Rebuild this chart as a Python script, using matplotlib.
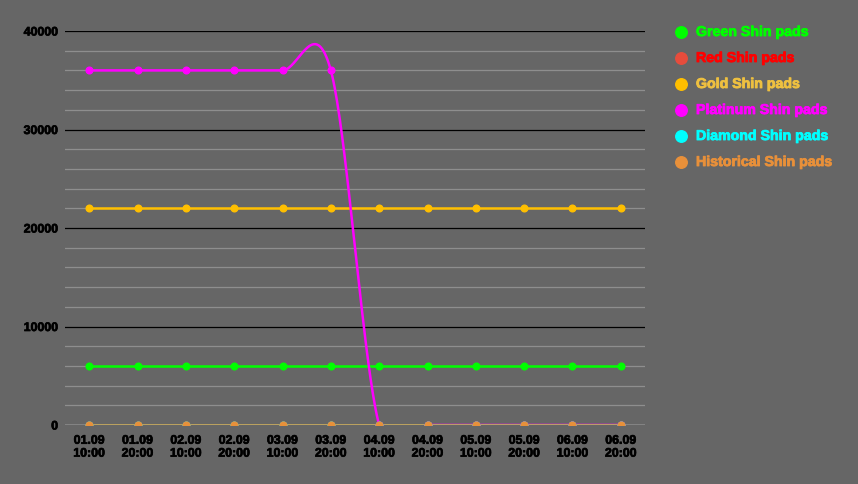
import numpy as np
import matplotlib
matplotlib.use("Agg")
import matplotlib.pyplot as plt
from matplotlib.lines import Line2D
import matplotlib.patheffects as pe

plt.rcParams['font.family'] = ['Liberation Sans', 'DejaVu Sans']

categories = ["01.09\n10:00", "01.09\n20:00", "02.09\n10:00", "02.09\n20:00",
              "03.09\n10:00", "03.09\n20:00", "04.09\n10:00", "04.09\n20:00",
              "05.09\n10:00", "05.09\n20:00", "06.09\n10:00", "06.09\n20:00"]

series_names = ["Green Shin pads", "Red Shin pads", "Gold Shin pads",
                "Platinum Shin pads", "Diamond Shin pads", "Historical Shin pads"]
green = [6000] * 12
red = [0] * 12
gold = [22000] * 12
platinum = [36000, 36000, 36000, 36000, 36000, 36000, 0, 0, 0, 0, 0, 0]
diamond = [0] * 12
historical = [0] * 12
series_values = [green, red, gold, platinum, diamond, historical]

line_colors = ["#00ff00", "#e74c3c", "#ffbf00", "#ff00ff", "#00ffff", "#e8903a"]
text_colors = ["#00ff00", "#ff0000", "#eec040", "#ff00ff", "#00ffff", "#e8903a"]

BG = "#666666"


def catmull_rom(x, y, n=40):
    x = np.asarray(x, float)
    y = np.asarray(y, float)
    xs, ys = [], []
    N = len(x)
    for i in range(N - 1):
        p0 = (x[max(i - 1, 0)], y[max(i - 1, 0)])
        p1 = (x[i], y[i])
        p2 = (x[i + 1], y[i + 1])
        p3 = (x[min(i + 2, N - 1)], y[min(i + 2, N - 1)])
        c1 = (p1[0] + (p2[0] - p0[0]) / 6, p1[1] + (p2[1] - p0[1]) / 6)
        c2 = (p2[0] - (p3[0] - p1[0]) / 6, p2[1] - (p3[1] - p1[1]) / 6)
        t = np.linspace(0, 1, n)
        bx = (1 - t) ** 3 * p1[0] + 3 * (1 - t) ** 2 * t * c1[0] + 3 * (1 - t) * t ** 2 * c2[0] + t ** 3 * p2[0]
        by = (1 - t) ** 3 * p1[1] + 3 * (1 - t) ** 2 * t * c1[1] + 3 * (1 - t) * t ** 2 * c2[1] + t ** 3 * p2[1]
        xs.append(bx)
        ys.append(by)
    return np.concatenate(xs), np.concatenate(ys)


fig = plt.figure(figsize=(8.58, 4.84), dpi=100, facecolor=BG)
ax = fig.add_axes([65 / 858, 1 - 425 / 484, (645 - 65) / 858, (425 - 31) / 484])
ax.set_facecolor(BG)

x = np.arange(len(categories))
ax.set_xlim(-0.5, len(categories) - 0.5)
ax.set_ylim(0, 40000)

# grid
for v in range(2000, 40001, 2000):
    if v % 10000 == 0:
        ax.axhline(v, color="#000000", lw=0.9, zorder=1)
    else:
        ax.axhline(v, color="#8e8e8e", lw=0.9, zorder=1)
ax.axhline(0, color="#ffffff", lw=1.0, zorder=1)

for vals, col in zip(series_values, line_colors):
    sx, sy = catmull_rom(x, vals)
    ax.plot(sx, sy, color=col, lw=1.8, zorder=3, solid_capstyle="round")
    ax.plot(x, vals, linestyle="none", marker="o", ms=4.8, color=col, zorder=4)

for s in ax.spines.values():
    s.set_visible(False)

tick_fx = [pe.withStroke(linewidth=0.5, foreground="#000000")]
ax.set_xticks(x)
ax.set_xticklabels(categories, fontsize=8.9, fontweight="bold", color="#000000", linespacing=1.1)
ax.set_yticks([0, 10000, 20000, 30000, 40000])
ax.set_yticklabels(["0", "10000", "20000", "30000", "40000"], fontsize=8.9,
                   fontweight="bold", color="#000000")
for lab in ax.get_xticklabels() + ax.get_yticklabels():
    lab.set_path_effects(tick_fx)
ax.tick_params(axis="both", length=0)
ax.tick_params(axis="x", pad=7)
ax.tick_params(axis="y", pad=5)

# legend
for i, (name, lc, tc) in enumerate(zip(series_names, line_colors, text_colors)):
    ypix = 32 + i * 26
    yf = 1 - ypix / 484
    fig.lines.append(Line2D([681 / 858], [yf], transform=fig.transFigure, marker="o",
                            ms=8.3, color=lc, linestyle="none"))
    fig.text(696 / 858, yf, name, color=tc, fontsize=10.2, fontweight="bold",
             va="center", ha="left",
             path_effects=[pe.withStroke(linewidth=0.6, foreground=tc)])

fig.savefig("out.png", dpi=100, facecolor=BG)
